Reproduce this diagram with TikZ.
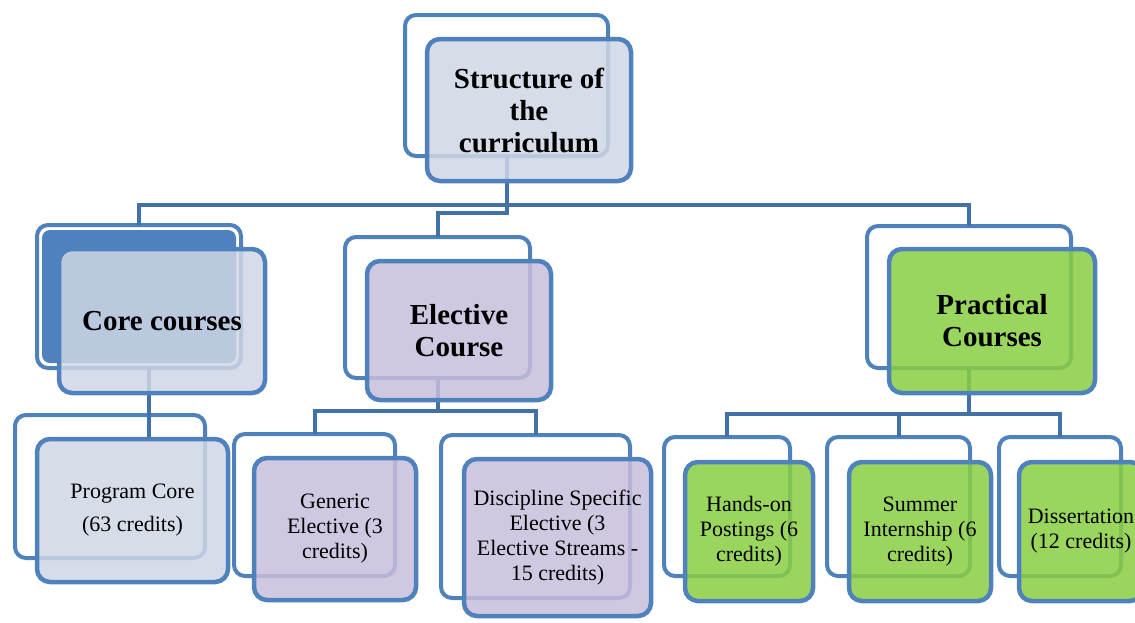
\documentclass[tikz,border=0pt]{standalone}
\usepackage{fontspec}
\setmainfont{Liberation Serif}
\usetikzlibrary{calc}

\definecolor{frameblue}{RGB}{79,129,189}
\definecolor{linkblue}{RGB}{66,113,168}
\definecolor{paleblue}{RGB}{207,214,229}
\definecolor{lavender}{RGB}{200,190,219}
\definecolor{leafgreen}{RGB}{137,206,66}

\tikzset{
  backframe/.style={draw=frameblue, line width=4pt, rounded corners=11pt, fill=white, inner sep=0pt},
  backfill/.style={fill=frameblue, rounded corners=8pt, inner sep=0pt},
  frontbox/.style={draw=frameblue, line width=4.5pt, rounded corners=13pt,
    fill opacity=0.85, text opacity=1, inner sep=0pt, align=center, text=black},
  headtext/.style={font=\fontsize{29}{32}\selectfont\bfseries},
  leaftext/.style={font=\fontsize{22}{25}\selectfont},
  conn/.style={draw=linkblue, line width=4pt, line cap=rect},
}

\begin{document}
\begin{tikzpicture}[x=1pt, y=-1pt]
\useasboundingbox (0,0) rectangle (1135,622);
\clip (0,0) rectangle (1135,622);

% ---- back frames ----
\node[backframe, minimum width=203pt, minimum height=141pt] (topback) at (506.5,85.5) {};
\node[backframe, minimum width=204pt, minimum height=143pt] (coreback) at (139,296.5) {};
\node[backfill, minimum width=194pt, minimum height=133pt] (coreshade) at (coreback.center) {};
\node[backframe, minimum width=185pt, minimum height=141pt] (electiveback) at (437.5,307.5) {};
\node[backframe, minimum width=204pt, minimum height=142pt] (practicalback) at (969,297) {};
\node[backframe, minimum width=190pt, minimum height=143pt] (pcback) at (110,486.5) {};
\node[backframe, minimum width=161pt, minimum height=142pt] (genericback) at (314.5,505) {};
\node[backframe, minimum width=189pt, minimum height=163pt] (dseback) at (535.5,516.5) {};
\node[backframe, minimum width=126pt, minimum height=139pt] (handsback) at (727,506.5) {};
\node[backframe, minimum width=143pt, minimum height=139pt] (summerback) at (898.5,506.5) {};
\node[backframe, minimum width=122pt, minimum height=139pt] (dissback) at (1060,506.5) {};

% ---- connectors ----
\coordinate (topbus) at (506.5,205);
\coordinate (eljog) at (506.5,213);
\draw[conn] (topback.south) -- (eljog) -| (electiveback.north);
\draw[conn] (coreback.north) -- (coreback.north |- topbus)
  -- (practicalback.north |- topbus) -- (practicalback.north);

\coordinate (pcjoin) at (149,437);
\draw[conn] (coreback.south -| pcjoin) -- (pcjoin);

\coordinate (elbus) at (437.5,411);
\draw[conn] (electiveback.south) -- (elbus);
\draw[conn] (genericback.north) -- (genericback.north |- elbus)
  -- (dseback.north |- elbus) -- (dseback.north);

\coordinate (prbus) at (969,414);
\draw[conn] (practicalback.south) -- (prbus);
\draw[conn] (handsback.north) -- (handsback.north |- prbus)
  -- (dissback.north |- prbus) -- (dissback.north);
\draw[conn] (summerback.north) -- (summerback.north |- prbus);

% ---- front boxes ----
\node[frontbox, headtext, fill=paleblue, minimum width=204pt, minimum height=142pt] (top) at (529,110)
  {Structure of\\the\\curriculum};
\node[frontbox, headtext, fill=paleblue, minimum width=206pt, minimum height=144pt] (core) at (162,321)
  {Core courses};
\node[frontbox, headtext, fill=lavender, minimum width=184pt, minimum height=139pt] (elective) at (459,330.5)
  {Elective\\Course};
\node[frontbox, headtext, fill=leafgreen, minimum width=206pt, minimum height=144pt] (practical) at (992,321)
  {Practical\\Courses};

\node[frontbox, leaftext, fill=paleblue, minimum width=191pt, minimum height=143pt] (pc) at (132.5,510.5)
  {Program Core\\[8pt](63 credits)};
\node[frontbox, leaftext, fill=lavender, minimum width=162pt, minimum height=142pt] (generic) at (335,529)
  {Generic\\Elective (3\\credits)};
\node[frontbox, leaftext, fill=lavender, minimum width=187pt, minimum height=157pt] (dse) at (557.5,537.5)
  {Discipline Specific\\Elective (3\\Elective Streams -\\15 credits)};
\node[frontbox, leaftext, fill=leafgreen, minimum width=128pt, minimum height=139pt] (hands) at (749,531.5)
  {Hands-on\\Postings (6\\credits)};
\node[frontbox, leaftext, fill=leafgreen, minimum width=142pt, minimum height=139pt] (summer) at (920,531.5)
  {Summer\\Internship (6\\credits)};
\node[frontbox, leaftext, fill=leafgreen, minimum width=124pt, minimum height=139pt] (diss) at (1081,531.5)
  {Dissertation\\(12 credits)};
\end{tikzpicture}
\end{document}
